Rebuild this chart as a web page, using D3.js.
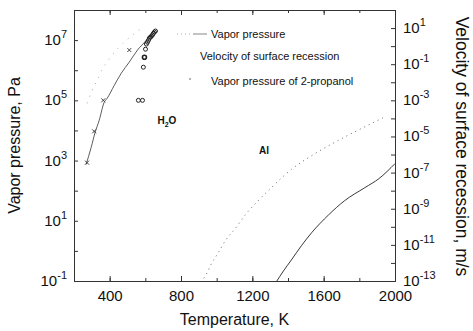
<!DOCTYPE html>
<html>
<head>
<meta charset="utf-8">
<script src="https://cdn.jsdelivr.net/npm/d3@7"></script>
<style>
  body { margin: 0; background: #fff; }
  text { font-family: "Liberation Sans", Arial, sans-serif; fill: #111; }
</style>
</head>
<body>
<script>
// water vapor pressure (solid, left axis)
var waterT = [268, 296, 318, 341, 369, 386, 426, 465, 510, 556, 606, 640];
var waterP = [740, 2700, 8500, 21400, 85000, 117000, 316000, 794000, 1.86e6, 4.68e6, 1.0e7, 1.86e7];
// Al vapor pressure (solid, left axis)
var alT = [1334, 1374, 1419, 1475, 1532, 1628, 1718, 1831, 1910, 2000];
var alP = [0.093, 0.214, 0.5, 1.48, 3.98, 15.8, 46.8, 126, 251, 794];
// velocity of surface recession (dotted, right axis)
var alVelT = [911, 939, 973, 1001, 1052, 1103, 1165, 1244, 1312, 1419, 1543, 1712, 1825, 1938];
var alVel = [8.7e-14, 2.1e-13, 1e-12, 2.75e-12, 1.9e-11, 7.8e-11, 5.2e-10, 3.6e-9, 1.66e-8, 1.5e-7, 1e-6, 8.7e-6, 3.2e-5, 1.15e-4];
var waterVelT = [273, 302, 330, 358, 381, 589];
var waterVel = [6.8e-4, 3.6e-3, 1.3e-2, 5.2e-2, 0.115, 11.5];
// vapor pressure of 2-propanol (x markers)
var propT = [273, 313, 364, 510];
var propP = [851, 9330, 1e5, 4.68e6];
// measured points (circles)
var circT = [561, 584, 589, 595, 601, 606, 612, 618, 623, 629, 634, 640, 646, 651, 657];
var circP = [1e5, 1e5, 1.26e6, 2.7e6, 5e6, 7.4e6, 8.5e6, 1e7, 1.17e7, 1.26e7, 1.35e7, 1.48e7, 1.7e7, 1.86e7, 2e7];

var xTicks = [400, 800, 1200, 1600, 2000];
var leftExp = [-1, 1, 3, 5, 7];
var rightExp = [-13, -11, -9, -7, -5, -3, -1, 1];

var margin = {top: 10, right: 78, bottom: 50, left: 74},
    width = 473 - margin.left - margin.right,
    height = 331 - margin.top - margin.bottom;

var x = d3.scaleLinear().domain([200, 2000]).range([0, width]);
var y = d3.scaleLog().domain([0.1, 1e8]).range([height, 0]);
var y2 = d3.scaleLog().domain([1e-13, 1e2]).range([height, 0]);

var svg = d3.select("body").append("svg")
    .attr("width", 473)
    .attr("height", 331)
  .append("g")
    .attr("transform", "translate(" + margin.left + "," + margin.top + ")");

svg.append("clipPath").attr("id", "clip")
  .append("rect").attr("width", width).attr("height", height);

// axes, ticks inward
var minorX = d3.range(200, 2001, 200);
svg.append("g").attr("transform", "translate(0," + height + ")")
    .call(d3.axisBottom(x).tickValues(minorX).tickSize(-3).tickFormat(""));
svg.append("g").attr("transform", "translate(0," + height + ")")
    .call(d3.axisBottom(x).tickValues(xTicks).tickSize(-5).tickPadding(9).tickFormat(d3.format("d")));
svg.append("g")
    .call(d3.axisTop(x).tickValues(minorX).tickSize(-3).tickFormat(""));
svg.append("g")
    .call(d3.axisTop(x).tickValues(xTicks).tickSize(-5).tickFormat(""));

var leftDec = d3.range(-1, 9).map(function(e) { return Math.pow(10, e); });
svg.append("g")
    .call(d3.axisLeft(y).tickValues(leftDec).tickSize(-4).tickFormat(""));
var rightDec = d3.range(-13, 3).map(function(e) { return Math.pow(10, e); });
svg.append("g").attr("transform", "translate(" + width + ",0)")
    .call(d3.axisRight(y2).tickValues(rightDec).tickSize(-4).tickFormat(""));

svg.selectAll(".domain").attr("stroke", "#333");
svg.selectAll(".tick line").attr("stroke", "#333");
svg.selectAll(".tick text").attr("font-size", 15).attr("font-family", "Liberation Sans, Arial, sans-serif");

// power labels
function powLabel(g, px, py, e, anchor) {
  var t = g.append("text").attr("x", px).attr("y", py).attr("font-size", 15).attr("text-anchor", anchor);
  t.append("tspan").text("10");
  t.append("tspan").attr("dy", -7).attr("font-size", 11).text(e);
}
leftExp.forEach(function(e) {
  powLabel(svg, -7, y(Math.pow(10, e)) + 5, e, "end");
});
rightExp.forEach(function(e) {
  powLabel(svg, width + 8, y2(Math.pow(10, e)) + 5, e, "start");
});

// axis titles
svg.append("text").attr("x", width / 2).attr("y", height + 44)
    .attr("text-anchor", "middle").attr("font-size", 16).text("Temperature, K");
svg.append("text").attr("transform", "translate(" + (-54) + "," + (height / 2) + ") rotate(-90)")
    .attr("text-anchor", "middle").attr("font-size", 16).text("Vapor pressure, Pa");
svg.append("text").attr("transform", "translate(" + (width + 61) + "," + (height / 2 + 1) + ") rotate(90)")
    .attr("text-anchor", "middle").attr("font-size", 17.5).text("Velocity of surface recession, m/s");

var plot = svg.append("g").attr("clip-path", "url(#clip)");

var lineP = d3.line().curve(d3.curveMonotoneX)
    .x(function(d) { return x(d[0]); }).y(function(d) { return y(d[1]); });
var lineV = d3.line().curve(d3.curveMonotoneX)
    .x(function(d) { return x(d[0]); }).y(function(d) { return y2(d[1]); });

plot.append("path").datum(d3.zip(waterT, waterP))
    .attr("d", lineP).attr("fill", "none").attr("stroke", "#333").attr("stroke-width", 0.8);
plot.append("path").datum(d3.zip(alT, alP))
    .attr("d", lineP).attr("fill", "none").attr("stroke", "#222").attr("stroke-width", 0.9);

plot.append("path").datum(d3.zip(alVelT, alVel))
    .attr("d", lineV).attr("fill", "none").attr("stroke", "#666")
    .attr("stroke-width", 1).attr("stroke-dasharray", "1,4");
plot.append("path").datum(d3.zip(waterVelT, waterVel))
    .attr("d", lineV).attr("fill", "none").attr("stroke", "#aaa")
    .attr("stroke-width", 1).attr("stroke-dasharray", "1,6");

// 2-propanol markers
plot.selectAll(".xm").data(d3.zip(propT, propP)).enter().append("path")
    .attr("class", "xm")
    .attr("d", function(d) {
      var cx = x(d[0]), cy = y(d[1]);
      return "M" + (cx - 2) + "," + (cy - 2) + "L" + (cx + 2) + "," + (cy + 2) +
             "M" + (cx - 2) + "," + (cy + 2) + "L" + (cx + 2) + "," + (cy - 2);
    })
    .attr("stroke", "#333").attr("stroke-width", 0.9);

// circles
plot.selectAll(".cm").data(d3.zip(circT, circP)).enter().append("circle")
    .attr("class", "cm")
    .attr("cx", function(d) { return x(d[0]); })
    .attr("cy", function(d) { return y(d[1]); })
    .attr("r", 2)
    .attr("fill", "none").attr("stroke", "#222")
    .attr("stroke-width", function(d, i) { return i == 3 ? 1.6 : 1; });

// labels
var h2o = svg.append("text").attr("x", x(668)).attr("y", y(1.6e4))
    .attr("font-size", 10).attr("font-weight", "bold");
h2o.append("tspan").text("H");
h2o.append("tspan").attr("dy", 3).attr("font-size", 7).text("2");
h2o.append("tspan").attr("dy", -3).text("O");
svg.append("text").attr("x", x(1238)).attr("y", y(1.7e3)).attr("font-size", 10)
    .attr("font-weight", "bold").text("Al");

// legend
var leg = svg.append("g").attr("transform", "translate(" + (177 - margin.left) + "," + (34 - margin.top) + ")");
leg.append("line").attr("x1", 0).attr("x2", 14).attr("y1", 0).attr("y2", 0)
    .attr("stroke", "#aaa").attr("stroke-dasharray", "1,3");
leg.append("line").attr("x1", 16).attr("x2", 30).attr("y1", 0).attr("y2", 0)
    .attr("stroke", "#888");
leg.append("text").attr("x", 34).attr("y", 4).attr("font-size", 11).text("Vapor pressure");
leg.append("text").attr("x", 23).attr("y", 26).attr("font-size", 11).text("Velocity of surface recession");
leg.append("circle").attr("cx", 13).attr("cy", 45).attr("r", 0.8).attr("fill", "#555");
leg.append("text").attr("x", 34).attr("y", 51).attr("font-size", 11).text("Vapor pressure of 2-propanol");
</script>
</body>
</html>
